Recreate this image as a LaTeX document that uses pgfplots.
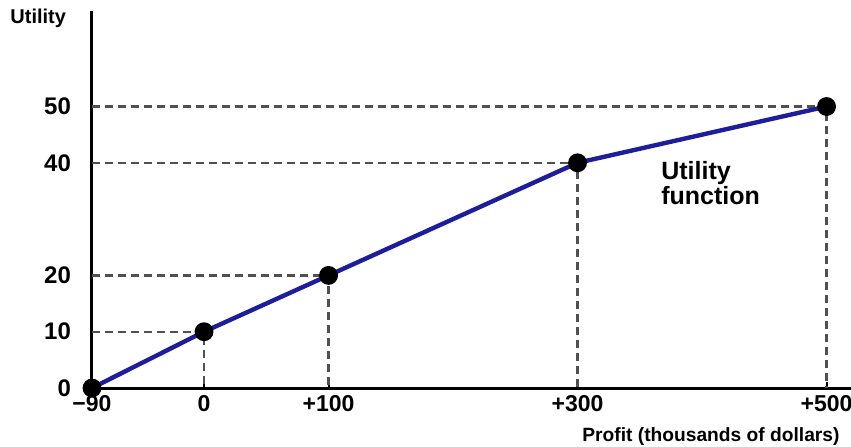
\documentclass[border=0pt]{standalone}
\usepackage{fontspec}
\setmainfont{Liberation Sans}
\usepackage{pgfplots}
\pgfplotsset{compat=1.18}
\definecolor{curveblue}{HTML}{1E1E9A}
\definecolor{dashgray}{HTML}{505050}

\begin{document}
\begin{tikzpicture}
  \useasboundingbox (0,0) rectangle (425.5pt,223pt);
  \begin{axis}[
    at={(46pt,29pt)}, anchor=south west,
    x=0.6225pt, y=2.815pt,
    xmin=-90, xmax=520, ymin=0, ymax=67,
    axis x line=bottom, axis y line=left,
    axis line style={line width=1.5pt, -},
    xtick={-90,0,100,300,500},
    xticklabels={−90,0,+100,+300,+500},
    ytick={0,10,20,40,50},
    yticklabels={0,10,20,40,50},
    tick align=inside, major tick length=3pt,
    tick style={black, line width=1pt},
    xticklabel style={font=\fontsize{11.5}{13}\selectfont\bfseries},
    yticklabel style={font=\fontsize{12}{14}\selectfont\bfseries, xshift=-7pt},
    clip=false,
  ]
    \addplot[dashgray, line width=1.2pt, dash pattern=on 4pt off 2.5pt] coordinates {(-90,10) (0,10) (0,0)};
    \addplot[dashgray, line width=1.2pt, dash pattern=on 4pt off 2.5pt] coordinates {(-90,20) (100,20) (100,0)};
    \addplot[dashgray, line width=1.2pt, dash pattern=on 4pt off 2.5pt] coordinates {(-90,40) (300,40) (300,0)};
    \addplot[dashgray, line width=1.2pt, dash pattern=on 4pt off 2.5pt] coordinates {(-90,50) (500,50) (500,0)};
    \addplot[curveblue, line width=2.2pt, mark=*, mark size=3.6pt,
      mark options={fill=black, draw=black}] coordinates {
      (-90,0) (0,10) (100,20) (300,40) (500,50)
    };
    \node[anchor=west, align=left, inner sep=0pt, font=\fontsize{12.5}{12.5}\selectfont\bfseries]
      at (axis cs:367,36.4) {Utility\\function};
  \end{axis}
  \node[anchor=west, inner sep=0pt, font=\fontsize{10}{12}\selectfont\bfseries] at (5pt,214pt) {Utility};
  \node[anchor=west, inner sep=0pt, font=\fontsize{9.6}{12}\selectfont\bfseries] at (291pt,4.5pt) {Profit (thousands of dollars)};
\end{tikzpicture}
\end{document}
